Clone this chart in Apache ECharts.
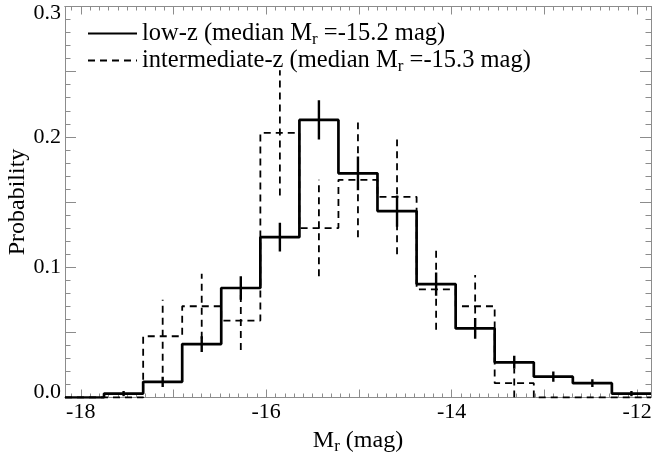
<!DOCTYPE html>
<html>
<head>
<meta charset="utf-8">
<script src="https://cdn.jsdelivr.net/npm/echarts@6/dist/echarts.min.js"></script>
<style>html,body{margin:0;padding:0;background:#fff;}#c{width:652px;height:454px;}</style>
</head>
<body>
<div id="c"></div>
<script>
// Bin edges (M_r, mag) and probabilities
var binEdges = [-18.17, -17.749, -17.327, -16.906, -16.485, -16.063, -15.642, -15.221, -14.800, -14.378, -13.957, -13.536, -13.114, -12.693, -12.272, -11.85];
var lowZProb = [0.0, 0.003, 0.012, 0.041, 0.084, 0.123, 0.213, 0.172, 0.143, 0.087, 0.053, 0.027, 0.016, 0.011, 0.003];
var lowZErr  = [0.0, 0.002, 0.004, 0.006, 0.009, 0.011, 0.015, 0.013, 0.012, 0.009, 0.008, 0.005, 0.004, 0.003, 0.002];
var midZProb = [0.0, 0.0, 0.047, 0.070, 0.059, 0.203, 0.130, 0.167, 0.154, 0.083, 0.070, 0.011, 0.0, 0.0, 0.0];
var midZErr  = [0.0, 0.0, 0.028, 0.025, 0.0225, 0.048, 0.037, 0.044, 0.044, 0.031, 0.024, 0.011, 0.0, 0.0, 0.0];
var xMajorTicks = [-18, -17, -16, -15, -14, -13, -12];
var xLabelTicks = [-18, -16, -14, -12];
var lowName = 'low-z';
var midName = 'intermediate-z';
var lowMedian = '-15.2';
var midMedian = '-15.3';

var FONT = 'Liberation Serif';
var AXC = '#8c8c8c';

var xMinorTicks = [];
for (var k = -182; k <= -118; k++) { if (k % 10 !== 0) xMinorTicks.push(k / 10); }

function stepData(p) {
  var d = [];
  for (var i = 0; i < p.length; i++) d.push([binEdges[i], p[i]]);
  d.push([binEdges[binEdges.length - 1], p[p.length - 1]]);
  return d;
}
function errData(p, e) {
  var d = [];
  for (var i = 0; i < p.length; i++) {
    if (e[i] > 0) d.push([(binEdges[i] + binEdges[i + 1]) / 2, p[i] - e[i], p[i] + e[i]]);
  }
  return d;
}
function errSeries(p, e, dashed, w) {
  return {
    type: 'custom', xAxisIndex: 0, yAxisIndex: 0, clip: true, silent: true,
    data: errData(p, e),
    renderItem: function (params, api) {
      var a = api.coord([api.value(0), api.value(1)]);
      var b = api.coord([api.value(0), api.value(2)]);
      return { type: 'line', shape: { x1: a[0], y1: a[1], x2: b[0], y2: b[1] },
        style: { stroke: '#000', lineWidth: w, lineDash: dashed ? [7, 5] : null } };
    }
  };
}

function xAx(pos, ticks, len, labels) {
  return {
    type: 'value', position: pos, min: binEdges[0], max: binEdges[binEdges.length - 1],
    axisLine: { show: true, onZero: false, lineStyle: { color: AXC, width: 1 } },
    axisTick: { show: true, inside: true, length: len, customValues: ticks, lineStyle: { color: AXC, width: 1 } },
    axisLabel: labels ? { show: true, customValues: xLabelTicks, color: '#000', fontFamily: FONT, fontSize: 22, margin: 4 } : { show: false },
    splitLine: { show: false }
  };
}
function yAx(pos, labels) {
  return {
    type: 'value', position: pos, min: 0, max: 0.3, interval: 0.05,
    axisLine: { show: true, onZero: false, lineStyle: { color: AXC, width: 1 } },
    axisTick: { show: true, inside: true, length: 11, lineStyle: { color: AXC, width: 1 } },
    minorTick: { show: true, splitNumber: 5, length: 5.5, lineStyle: { color: AXC, width: 1 } },
    axisLabel: labels ? {
      show: true, color: '#000', fontFamily: FONT, fontSize: 22, margin: 4,
      formatter: function (v) {
        var r = Math.round(v * 100);
        if (r % 10 !== 0) return '';
        var s = (r / 100).toFixed(1);
        if (r === 30) return '{t|' + s + '}';
        if (r === 0) return '{b|' + s + '}';
        return s;
      },
      rich: {
        t: { fontFamily: FONT, fontSize: 22, color: '#000', padding: [13, 0, 0, 0] },
        b: { fontFamily: FONT, fontSize: 22, color: '#000', padding: [0, 0, 11, 0] }
      }
    } : { show: false },
    splitLine: { show: false }, minorSplitLine: { show: false },
    name: labels ? 'Probability' : '', nameLocation: 'middle', nameGap: 35, nameMoveOverlap: false,
    nameTextStyle: { color: '#000', fontFamily: FONT, fontSize: 24 }
  };
}

var xAxes = [xAx('bottom', xMajorTicks, 8, true), xAx('bottom', xMinorTicks, 4, false),
             xAx('top', xMajorTicks, 8, false), xAx('top', xMinorTicks, 4, false)];
xAxes[0].name = '{n|M}{s|r}{n| (mag)}';
xAxes[0].nameLocation = 'middle';
xAxes[0].nameGap = 25;
xAxes[0].nameTextStyle = { color: '#000', fontFamily: FONT, fontSize: 24,
  rich: { n: { fontFamily: FONT, fontSize: 24, color: '#000' }, s: { fontFamily: FONT, fontSize: 17, color: '#000', padding: [12, 0, 0, 0] } } };

var medians = {}; medians[lowName] = lowMedian; medians[midName] = midMedian;

var option = {
  animation: false,
  backgroundColor: '#fff',
  grid: { left: 65, right: 1, top: 6.5, bottom: 56.5, containLabel: false, outerBoundsMode: 'none' },
  legend: {
    orient: 'vertical', left: 82, top: 16, itemWidth: 49, itemHeight: 14, itemGap: 0,
    data: [lowName, midName],
    itemStyle: { opacity: 0 },
    formatter: function (name) { return '{n|' + name + ' (median M}{s|r}{n| =' + medians[name] + ' mag)}'; },
    textStyle: { color: '#000', fontFamily: FONT, fontSize: 24.5,
      rich: { n: { fontFamily: FONT, fontSize: 24.5, color: '#000' }, s: { fontFamily: FONT, fontSize: 17, color: '#000', padding: [12, 0, 0, 0] } } },
    selectedMode: false
  },
  xAxis: xAxes,
  yAxis: [yAx('left', true), yAx('right', false)],
  series: [
    { name: lowName, type: 'line', step: 'end', xAxisIndex: 0, yAxisIndex: 0, showSymbol: false, symbol: 'none',
      data: stepData(lowZProb), lineStyle: { color: '#000', width: 2.7 }, itemStyle: { color: '#000' }, z: 3 },
    { name: midName, type: 'line', step: 'end', xAxisIndex: 0, yAxisIndex: 0, showSymbol: false, symbol: 'none',
      data: stepData(midZProb), lineStyle: { color: '#000', width: 1.8, type: [7, 5] }, itemStyle: { color: '#000' }, z: 2 },
    errSeries(lowZProb, lowZErr, false, 2.4),
    errSeries(midZProb, midZErr, true, 1.8)
  ]
};
var chart = echarts.init(document.getElementById('c'), null, { renderer: 'canvas' });
chart.setOption(option);
</script>
</body>
</html>
